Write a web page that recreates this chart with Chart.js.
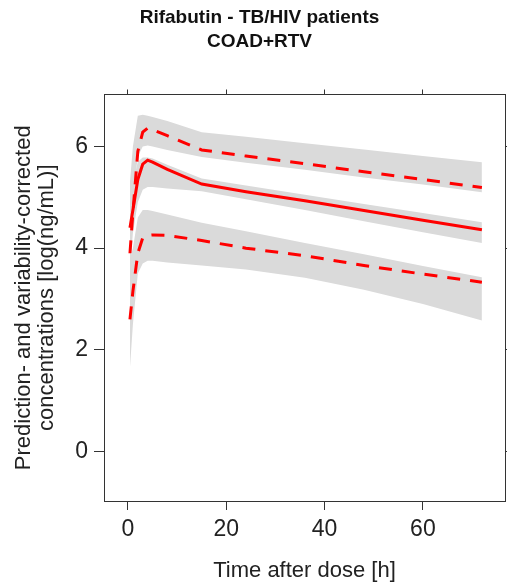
<!DOCTYPE html>
<html>
<head>
<meta charset="utf-8">
<script src="https://cdn.jsdelivr.net/npm/chart.js@4"></script>
<style>
  html, body { margin: 0; padding: 0; background: #fff; overflow: hidden; }
  #wrap { width: 507px; height: 588px; }
</style>
</head>
<body>
<div id="wrap"><canvas id="chart"></canvas></div>
<script>
// time after dose [h]
const TIME = [0.4, 1, 2, 3, 4, 5, 8, 15, 24, 36, 48, 60, 72];

// red lines: median and 5th / 95th percentiles
const MEDIAN = [4.4, 4.75, 5.35, 5.65, 5.73, 5.69, 5.55, 5.26, 5.11, 4.93, 4.74, 4.55, 4.36];
const P95 = [3.9, 4.7, 5.9, 6.28, 6.36, 6.33, 6.21, 5.93, 5.81, 5.66, 5.5, 5.35, 5.19];
const P05 = [2.6, 3.15, 3.9, 4.2, 4.25, 4.26, 4.25, 4.15, 4.0, 3.85, 3.66, 3.49, 3.33];

// grey confidence bands
const UP_HI = [5.3, 6.0, 6.6, 6.62, 6.6, 6.58, 6.5, 6.28, 6.19, 6.06, 5.94, 5.81, 5.69];
const UP_LO = [4.0, 5.0, 5.8, 6.0, 6.02, 6.0, 5.93, 5.79, 5.68, 5.54, 5.39, 5.25, 5.1];
const MED_HI = [4.9, 5.3, 5.7, 5.78, 5.78, 5.76, 5.64, 5.37, 5.23, 5.05, 4.87, 4.69, 4.51];
const MED_LO = [3.6, 4.3, 4.9, 5.15, 5.2, 5.2, 5.17, 5.12, 4.96, 4.75, 4.53, 4.31, 4.1];
const LOW_HI = [3.8, 4.0, 4.6, 4.75, 4.75, 4.73, 4.66, 4.5, 4.33, 4.1, 3.88, 3.65, 3.43];
const LOW_LO = [1.65, 2.5, 3.5, 3.7, 3.75, 3.75, 3.72, 3.66, 3.58, 3.42, 3.18, 2.9, 2.58];

const X_TICKS = [0, 20, 40, 60];
const Y_TICKS = [0, 2, 4, 6];

const FONT = "'Liberation Sans', Arial, sans-serif";
const RED = "#ff0000";
const GREY = "#dadada";
const AXIS = "#333333";

function pts(ys) {
  return TIME.map(function (t, i) { return { x: t, y: ys[i] }; });
}

function redLine(label, ys, dashed) {
  return {
    label: label,
    data: pts(ys),
    borderColor: RED,
    borderWidth: 3,
    borderDash: dashed ? [13, 10] : [],
    pointRadius: 0,
    fill: false,
    tension: 0,
  };
}

function bandEdge(label, ys, fillTo) {
  return {
    label: label,
    data: pts(ys),
    borderWidth: 0,
    borderColor: "rgba(0,0,0,0)",
    backgroundColor: GREY,
    pointRadius: 0,
    fill: fillTo,
    tension: 0,
  };
}

function tickAxis(position, ticksList, showLabels, len) {
  return {
    type: "linear",
    position: position,
    afterBuildTicks: function (scale) {
      scale.ticks = ticksList.map(function (v) { return { value: v }; });
    },
    grid: { drawOnChartArea: false, drawTicks: true, tickLength: len, color: AXIS, lineWidth: 1 },
    border: { display: true, color: AXIS, width: 1 },
    ticks: { display: showLabels, color: "#222", font: { family: FONT, size: 23 }, padding: 6, maxRotation: 0 },
  };
}

const xAxis = tickAxis("bottom", X_TICKS, true, 9);
xAxis.min = -4.88;
xAxis.max = 76.7;
xAxis.title = { display: true, text: "Time after dose [h]", color: "#222", font: { family: FONT, size: 22 }, padding: { top: 2 } };
xAxis.afterFit = function (scale) { scale.height = 87; };

const x2Axis = tickAxis("top", X_TICKS, false, 5);
x2Axis.min = -4.88;
x2Axis.max = 76.7;

const yAxis = tickAxis("left", Y_TICKS, true, 10);
yAxis.min = -0.97;
yAxis.max = 7.02;
yAxis.title = {
  display: true,
  text: ["Prediction- and variability-corrected", "concentrations [log(ng/mL)]"],
  color: "#222",
  font: { family: FONT, size: 22, lineHeight: 1.05 },
  padding: { top: 0, bottom: 4 },
};
yAxis.afterFit = function (scale) { scale.width = 92; };

const y2Axis = tickAxis("right", Y_TICKS, false, 2);
y2Axis.min = -0.97;
y2Axis.max = 7.02;

new Chart(document.getElementById("chart"), {
  type: "line",
  data: {
    datasets: [
      redLine("Median", MEDIAN, false),
      redLine("95th percentile", P95, true),
      redLine("5th percentile", P05, true),
      bandEdge("upper hi", UP_HI, false),
      bandEdge("upper lo", UP_LO, "-1"),
      bandEdge("median hi", MED_HI, false),
      bandEdge("median lo", MED_LO, "-1"),
      bandEdge("lower hi", LOW_HI, false),
      bandEdge("lower lo", LOW_LO, "-1"),
    ],
  },
  options: {
    responsive: true,
    maintainAspectRatio: false,
    animation: false,
    layout: { padding: { left: 12, right: 0, top: 0, bottom: 0 } },
    scales: { x: xAxis, x2: x2Axis, y: yAxis, y2: y2Axis },
    plugins: {
      legend: { display: false },
      tooltip: { enabled: false },
      title: {
        display: true,
        text: ["Rifabutin - TB/HIV patients", "COAD+RTV"],
        color: "#111",
        font: { family: FONT, size: 19, weight: "bold", lineHeight: 1.25 },
        padding: { top: 6, bottom: 36 },
      },
    },
  },
});
</script>
</body>
</html>
